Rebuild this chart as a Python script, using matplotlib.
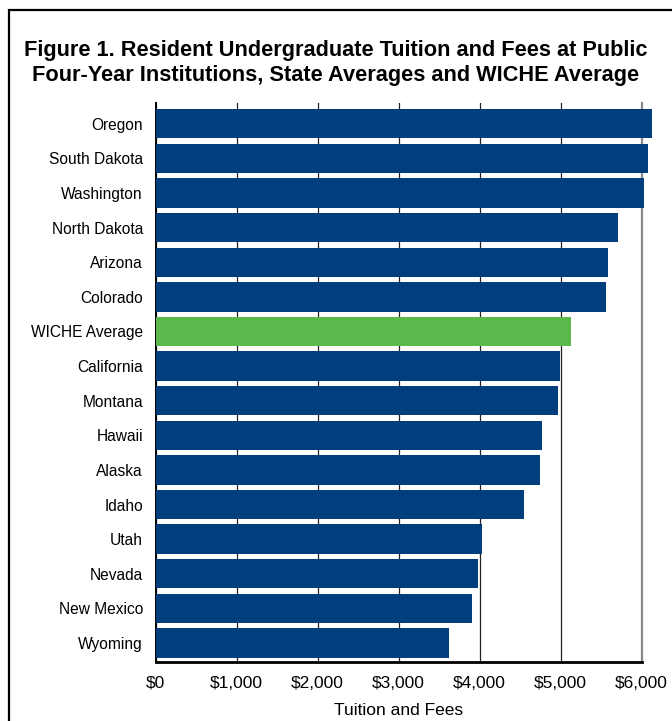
import matplotlib
matplotlib.use('Agg')
import matplotlib.pyplot as plt
from matplotlib import font_manager
from matplotlib.patches import Rectangle
from matplotlib.ticker import FuncFormatter

# state averages (dollars)
states = ["Oregon", "South Dakota", "Washington", "North Dakota", "Arizona",
          "Colorado", "WICHE Average", "California", "Montana", "Hawaii",
          "Alaska", "Idaho", "Utah", "Nevada", "New Mexico", "Wyoming"]
tuition = [6130, 6080, 6030, 5710, 5590, 5560, 5130, 4990, 4970, 4770,
           4750, 4550, 4030, 3980, 3910, 3620]
x_ticks = [0, 1000, 2000, 3000, 4000, 5000, 6000]

NAVY = "#023e7d"
GREEN = "#5bb84b"

names = {f.name for f in font_manager.fontManager.ttflist}
body_font = "Liberation Sans" if "Liberation Sans" in names else "DejaVu Sans"
title_font = "Liberation Sans Narrow" if "Liberation Sans Narrow" in names else body_font
plt.rcParams['font.family'] = [body_font, 'DejaVu Sans']

fig = plt.figure(figsize=(6.72, 7.21), dpi=100)
fig.patches.append(Rectangle((9 / 672, -0.05), 1.2, 1 - 10 / 721 + 0.05,
                             transform=fig.transFigure, fill=False,
                             edgecolor="black", linewidth=1.6))

fig.text(0.5, 1 - 63 / 721, "Figure 1. Resident Undergraduate Tuition and Fees at Public\n"
         "Four-Year Institutions, State Averages and WICHE Average",
         ha="center", va="center", fontsize=15.7, fontweight="bold",
         family=[title_font, 'DejaVu Sans'], linespacing=1.2)

ax = fig.add_axes([155.5 / 672, 1 - 662 / 721, 486 / 672, (662 - 103) / 721])

colors = [GREEN if s == "WICHE Average" else NAVY for s in states]
ypos = list(range(len(states)))
bars = ax.barh(ypos, tuition, height=0.85, color=colors, zorder=3)
for b in bars:
    b.set_clip_on(False)

ax.set_xlim(0, 6000)
ax.set_ylim(len(states) - 0.45, -0.6)
ax.set_yticks(ypos)
ax.set_yticklabels(states, fontsize=11.2)
ax.set_xticks(x_ticks)
ax.xaxis.set_major_formatter(FuncFormatter(lambda v, p: "${:,.0f}".format(v)))
ax.tick_params(axis="x", length=0, pad=10, labelsize=12.5)
ax.tick_params(axis="y", length=0, pad=9)
ax.set_xlabel("Tuition and Fees", fontsize=12.5, labelpad=9)

ax.set_axisbelow(True)
ax.grid(axis="x", color="#222222", linewidth=0.9)
ax.grid(axis="y", visible=False)
ax.spines["top"].set_visible(False)
ax.spines["right"].set_color("#888888")
ax.spines["right"].set_linewidth(1.6)
ax.spines["right"].set_zorder(1)
ax.spines["left"].set_linewidth(1.4)
ax.spines["bottom"].set_linewidth(2)

fig.savefig("out.png", dpi=100)
